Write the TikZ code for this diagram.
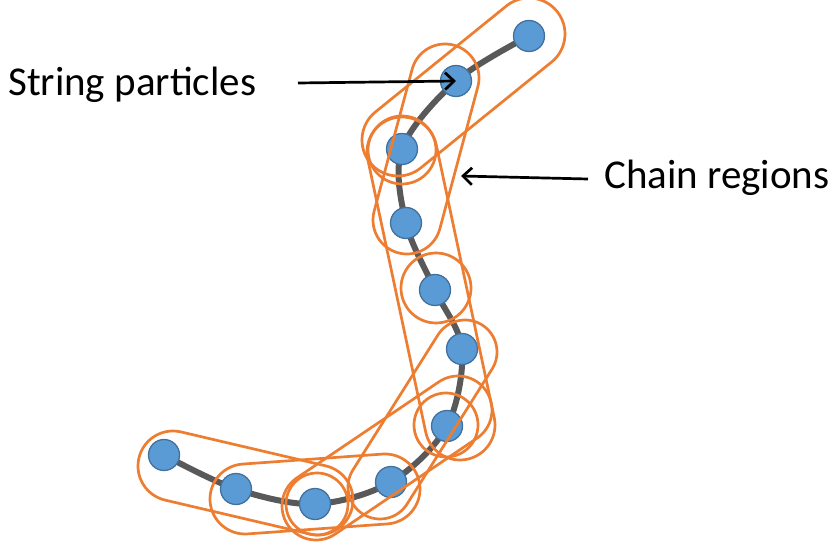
\documentclass[tikz,border=0pt]{standalone}
\usepackage{fontspec}
\setmainfont{Carlito}
\usetikzlibrary{calc,arrows.meta}
\definecolor{partfill}{HTML}{5B9BD5}
\definecolor{partline}{HTML}{41719C}
\definecolor{chaincol}{HTML}{595959}
\definecolor{regcol}{HTML}{ED7D31}
\tikzset{
  particle/.style={circle,fill=partfill,draw=partline,line width=1.3pt,minimum size=31pt,inner sep=0pt},
  chainline/.style={draw=chaincol,line width=6pt},
  region/.style={draw=regcol,line width=2.7pt},
  pointer/.style={draw=black,line width=2.7pt,-{Straight Barb[length=9pt,width=17pt,line width=2.7pt]}},
  lbl/.style={font=\fontsize{41}{46}\selectfont,inner sep=0pt,anchor=base west}
}
\newcommand\stadium[3]{%
  \draw[region] let \p1=(#1), \p2=(#2), \n1={atan2(\y2-\y1,\x2-\x1)} in
    ($(#1)+(\n1+90:#3)$) -- ($(#2)+(\n1+90:#3)$)
    arc[start angle=\n1+90, delta angle=-180, radius=#3]
    -- ($(#1)+(\n1-90:#3)$)
    arc[start angle=\n1-90, delta angle=-180, radius=#3] -- cycle;}
\begin{document}
\begin{tikzpicture}[x=1pt,y=1pt]
\useasboundingbox (0,0) rectangle (831,-548);
% particle centres
\coordinate (c1) at (529,-36);
\coordinate (c2) at (456,-81);
\coordinate (c3) at (402,-149);
\coordinate (c4) at (406,-223);
\coordinate (c5) at (435,-290);
\coordinate (c6) at (462,-349);
\coordinate (c7) at (447,-426);
\coordinate (c8) at (391,-482);
\coordinate (c9) at (315,-504);
\coordinate (c10) at (236,-489);
\coordinate (c11) at (164,-455);
% region end points
\coordinate (r1a) at (529,-34); \coordinate (r1b) at (398,-140);
\coordinate (r2a) at (445,-78); \coordinate (r2b) at (407,-220);
\coordinate (r4a) at (402,-152); \coordinate (r4b) at (460,-425);
\coordinate (r6a) at (465,-352); \coordinate (r6b) at (380,-487);
\coordinate (r8a) at (458,-410); \coordinate (r8b) at (316,-506);
\coordinate (r10a) at (245,-499); \coordinate (r10b) at (385,-489);
\coordinate (r11a) at (173,-466); \coordinate (r11b) at (318,-500);
% chain
\draw[chainline] plot[smooth,tension=0.55] coordinates {(c1) (c2) (c3) (c4) (c5) (c6) (c7) (c8) (c9) (c10) (c11)};
% particles
\foreach \i in {1,...,11} \node[particle] (p\i) at (c\i) {};
% regions
\stadium{r1a}{r1b}{36}
\stadium{r2a}{r2b}{34}
\draw[region] (402,-150) circle[radius=34];
\stadium{r4a}{r4b}{35}
\draw[region] (436,-288) circle[radius=35];
\stadium{r6a}{r6b}{32}
\draw[region] (446,-425) circle[radius=32];
\stadium{r8a}{r8b}{34}
\draw[region] (317,-504) circle[radius=31];
\stadium{r10a}{r10b}{35}
\stadium{r11a}{r11b}{35}
% labels and pointers
\node[lbl] (sp) at (8,-96) {String particles};
\node[lbl] (cr) at (604,-189) {Chain regions};
\coordinate (s1) at (298,-83);
\coordinate (s2) at (588,-179);
\coordinate (t2) at (461,-176);
\draw[pointer] (s1) -- (p2.center);
\draw[pointer] (s2) -- (t2);
\end{tikzpicture}
\end{document}
